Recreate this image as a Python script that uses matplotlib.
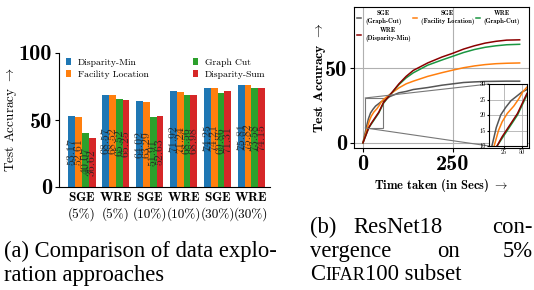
import matplotlib
matplotlib.use("Agg")
import matplotlib.pyplot as plt
import numpy as np
from mpl_toolkits.axes_grid1.inset_locator import mark_inset

plt.rcParams['font.family'] = 'cmr10'
plt.rcParams['mathtext.fontset'] = 'cm'
plt.rcParams['axes.unicode_minus'] = False

# ---- data: bar chart (a)
selectors = ['SGE', 'WRE', 'SGE', 'WRE', 'SGE', 'WRE']
budgets = ['(5%)', '(5%)', '(10%)', '(10%)', '(30%)', '(30%)']
methods = ['Disparity-Min', 'Facility Location', 'Graph Cut', 'Disparity-Sum']
disp_min = [53.17, 68.57, 64.02, 71.92, 74.25, 75.81]
fac_loc = [52.61, 68.52, 63.29, 71.24, 74.21, 75.82]
graph_cut = [40.07, 65.52, 51.91, 68.56, 69.86, 73.58]
disp_sum = [36.62, 65.25, 52.63, 68.98, 71.31, 74.15]
bar_colors = ['#1f77b4', '#ff7f0e', '#2ca02c', '#d62728']

# ---- data: convergence curves (b)
t_sge_gc = [0, 9, 15, 21, 28, 35, 42, 50, 57, 75, 100, 120, 140, 180, 220, 250, 280, 310, 340, 370, 400, 436]
a_sge_gc = [0, 10, 16, 20, 22.5, 24.6, 25.9, 27.4, 28.2, 31, 33.5, 34.4, 35.7, 37, 38.6, 39.5, 40.4, 40.8, 41.1, 41.2, 41.3, 41.3]
t_sge_fl = [0, 12, 18, 23, 30, 39, 46, 51, 57, 75, 100, 120, 140, 180, 220, 250, 280, 310, 340, 370, 400, 436]
a_sge_fl = [0, 10, 15, 17.8, 20.5, 22.9, 25.3, 27.4, 29, 32.5, 36.8, 39.5, 41.3, 44.5, 47, 48.7, 50.3, 51.5, 52.4, 53, 53.3, 53.5]
t_wre_gc = [0, 16, 23, 30, 37, 44, 50, 57, 75, 100, 120, 140, 180, 220, 250, 280, 310, 340, 370, 400, 436]
a_wre_gc = [0, 10, 12.5, 15, 17.5, 20, 23, 26.5, 32, 39, 43.5, 46.9, 52, 55.5, 58, 60.5, 62.5, 64, 65, 65.7, 66]
t_wre_dm = [0, 16, 23, 30, 37, 44, 50, 57, 75, 100, 120, 140, 180, 220, 250, 280, 310, 340, 370, 400, 436]
a_wre_dm = [0, 10, 13, 15.5, 18, 20.5, 23.5, 27, 32, 39.5, 44.5, 48.5, 53.5, 57.5, 60, 62.8, 65, 66.8, 68, 68.8, 69]

fig = plt.figure(figsize=(5.34, 2.90), dpi=100)
W, H = 534.0, 290.0

# ---------------- (a) bars
ax = fig.add_axes([59 / W, 1 - 187 / H, 211 / W, 134 / H])
x = np.arange(len(selectors))
bw = 0.2
for i, (vals, name) in enumerate(zip([disp_min, fac_loc, graph_cut, disp_sum], methods)):
    xs = x + (i - 1.5) * bw
    ax.bar(xs, vals, bw, color=bar_colors[i], label=name)
    for xi, v in zip(xs, vals):
        ax.text(xi, v / 2, '%.2f' % v, rotation=90, ha='center', va='center',
                fontsize=8.5, color='#222222', alpha=0.85)
ax.set_xlim(-0.68, 5.55)
ax.set_ylim(0, 100)
ax.set_yticks([0, 50, 100])
ax.set_yticklabels(['0', '50', '100'], fontfamily='cmb10', fontsize=16)
ax.set_xticks(x)
ax.set_xticklabels(['$\\mathbf{%s}$\n%s' % (s, b) for s, b in zip(selectors, budgets)],
                   fontsize=9.5, linespacing=1.25)
ax.tick_params(axis='x', length=0, pad=3)
ax.tick_params(axis='y', length=3, pad=2)
ax.spines['top'].set_visible(False)
ax.spines['right'].set_visible(False)
ax.set_ylabel('Test Accuracy $\\rightarrow$', fontsize=9.5)
ax.yaxis.set_label_coords(-0.19, 0.5)
ax.legend(ncol=2, loc='upper left', frameon=False, fontsize=6.9,
          handlelength=0.55, handleheight=0.8, columnspacing=4.6,
          handletextpad=0.7, labelspacing=0.35, borderaxespad=0.0, borderpad=0.2,
          bbox_to_anchor=(0.025, 0.98))

# ---------------- (b) curves
ax2 = fig.add_axes([354 / W, 1 - 148 / H, 175 / W, 141 / H])
curves = [
    (t_sge_gc, a_sge_gc, '#555555', 'SGE\n(Graph-Cut)'),
    (t_sge_fl, a_sge_fl, '#ff7f0e', 'SGE\n(Facility Location)'),
    (t_wre_gc, a_wre_gc, '#1a9641', 'WRE\n(Graph-Cut)'),
    (t_wre_dm, a_wre_dm, '#8b0000', 'WRE\n(Disparity-Min)'),
]
lines = []
for t, a, c, lab in curves:
    ln, = ax2.plot(t, a, color=c, lw=1.1, label=lab)
    lines.append(ln)
ax2.set_xlim(-25, 462)
ax2.set_ylim(-3.5, 91)
ax2.set_xticks([0, 250])
ax2.set_yticks([0, 50])
ax2.set_xticklabels(['0', '250'], fontfamily='cmb10', fontsize=16)
ax2.set_yticklabels(['0', '50'], fontfamily='cmb10', fontsize=16)
ax2.tick_params(length=3, pad=2)
ax2.grid(True, color='#b0b0b0', lw=0.8)
ax2.set_xlabel('Time taken (in Secs) $\\rightarrow$', fontfamily='cmb10', fontsize=9, labelpad=2)
ax2.set_ylabel('Test Accuracy $\\rightarrow$', fontfamily='cmb10', fontsize=10)
ax2.yaxis.set_label_coords(-0.15, 0.5)
# row-wise order: column-major fill with 3 columns
order = [0, 3, 1, 2]
leg = ax2.legend([lines[k] for k in order], [curves[k][3] for k in order],
                 ncol=3, loc='upper left', frameon=False, prop={'family': 'cmb10', 'size': 4.7},
                 handlelength=0.6, handletextpad=0.6, columnspacing=0.3,
                 labelspacing=0.4, borderaxespad=0.2, borderpad=0.3)
for txt in leg.get_texts():
    txt.set_multialignment('center')
    txt.set_linespacing(1.3)

ins = fig.add_axes([489 / W, 1 - 146 / H, 38 / W, 62 / H])
for t, a, c, lab in curves:
    ins.plot(t, a, color=c, lw=1.1)
ins.set_xlim(5, 57)
ins.set_ylim(10, 30)
ins.set_xticks([25, 50])
ins.set_yticks([10, 15, 20, 25, 30])
ins.tick_params(labelsize=4.5, length=1.5, pad=1)
ins.grid(True, color='#b0b0b0', lw=0.6)
mark_inset(ax2, ins, loc1=2, loc2=3, fc='none', ec='#777777', lw=0.8)

# ---------------- captions
cs = 16.3
cap = dict(fontfamily='Liberation Serif', fontsize=cs, color='black')
fig.text(4 / W, 1 - 257 / H, '(a) Comparison of data explo-', va='baseline', **cap)
fig.text(4 / W, 1 - 281 / H, 'ration approaches', va='baseline', **cap)

fig.text(310 / W, 1 - 233 / H, '(b)', ha='left', va='baseline', **cap)
fig.text(398 / W, 1 - 233 / H, 'ResNet18', ha='center', va='baseline', **cap)
fig.text(533 / W, 1 - 233 / H, 'con-', ha='right', va='baseline', **cap)
fig.text(310 / W, 1 - 257 / H, 'vergence', ha='left', va='baseline', **cap)
fig.text(448 / W, 1 - 257 / H, 'on', ha='center', va='baseline', **cap)
fig.text(533 / W, 1 - 257 / H, '5%', ha='right', va='baseline', **cap)

fig.canvas.draw()
r = fig.canvas.get_renderer()
xpos = 310 / W
for piece, size in [('C', cs), ('IFAR', cs * 0.8), ('100 subset', cs)]:
    t = fig.text(xpos, 1 - 280 / H, piece, ha='left', va='baseline',
                 fontfamily='Liberation Serif', fontsize=size)
    bb = t.get_window_extent(renderer=r)
    xpos += bb.width / fig.bbox.width

fig.savefig('out.png', dpi=100)
